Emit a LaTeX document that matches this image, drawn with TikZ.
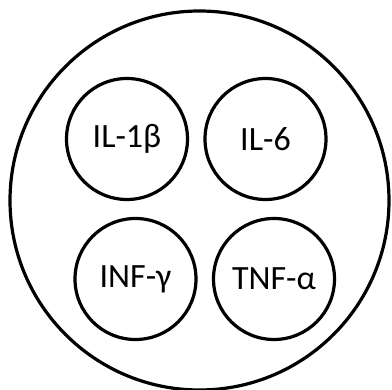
\documentclass[tikz,border=0pt]{standalone}
\usepackage{fontspec}
\setmainfont{Carlito}
\begin{document}
\begin{tikzpicture}[x=1pt,y=-1pt,
  cyto/.style={circle,draw=black,line width=3.2pt,minimum size=121pt,inner sep=0pt,font=\fontsize{34}{40}\selectfont},
  cell/.style={circle,draw=black,line width=3.2pt,minimum size=379pt,inner sep=0pt}]
\useasboundingbox (0,0) rectangle (392,390);
\clip (0,0) rectangle (392,390);
\node[cell] (cell) at (199.5,200.5) {};
\node[cyto] (il1) at (127,139) {IL-1β};
\node[cyto] (il6) at (265.5,139) {IL-6};
\node[cyto] (inf) at (135.5,279) {INF-γ};
\node[cyto] (tnf) at (274,279) {TNF-α};
\end{tikzpicture}
\end{document}
